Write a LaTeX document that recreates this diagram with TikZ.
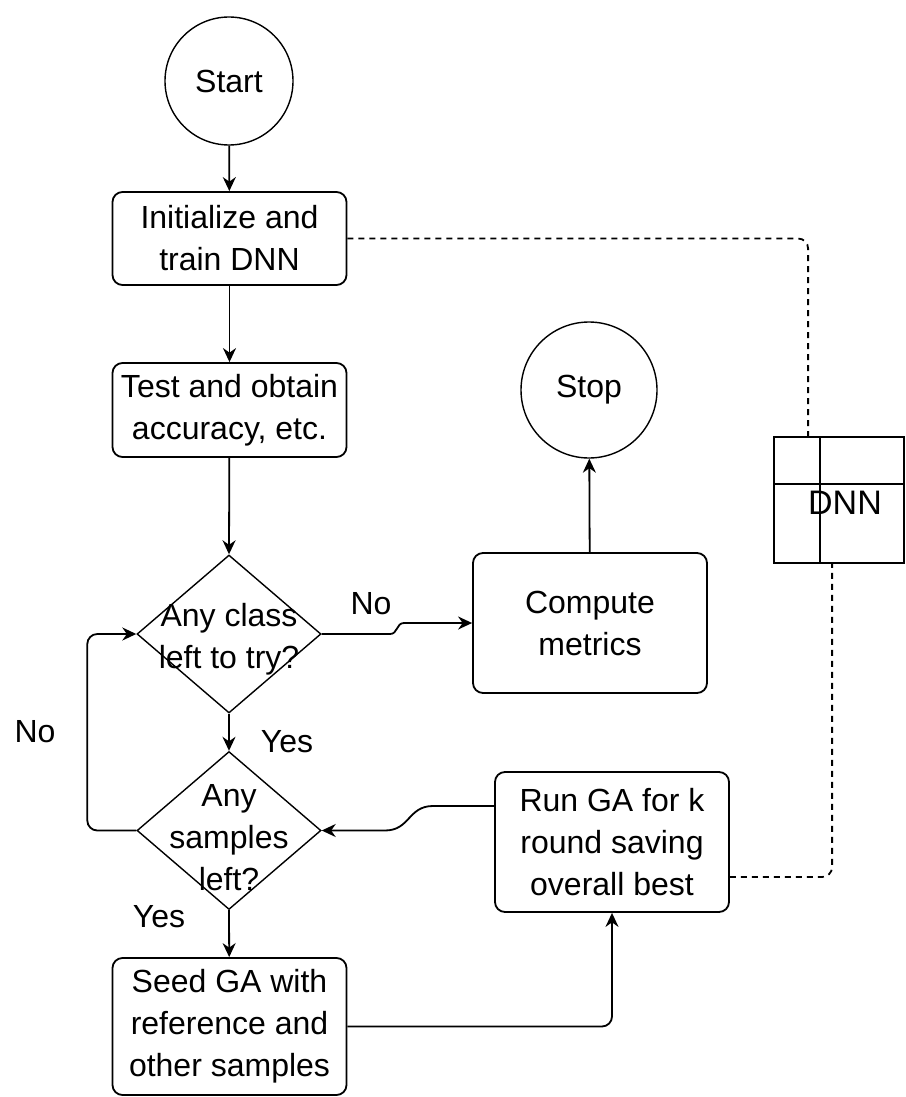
\documentclass[tikz,border=0pt]{standalone}
\usepackage{fontspec}
\setmainfont{Liberation Sans}
\usetikzlibrary{shapes.geometric,arrows.meta,calc}
\begin{document}
\begin{tikzpicture}[x=0.5pt,y=-0.5pt,
  line width=0.9pt,
  font=\fontsize{16}{21}\selectfont,
  box/.style={draw,rounded corners=5pt,minimum width=117pt,align=center,inner sep=0pt},
  term/.style={draw,circle,inner sep=0pt,line width=0.7pt},
  decision/.style={draw,diamond,inner sep=0pt,minimum width=92pt,minimum height=79pt,line width=0.7pt},
  flow/.style={-{Stealth[length=7pt,width=6.5pt]}},
  link/.style={dash pattern=on 3pt off 2.5pt,rounded corners=5pt},
]
\useasboundingbox (0,0) rectangle (905,1097);

% terminals
\node[term,minimum size=64pt] (start) at (229,81) {Start};
\node[term,minimum size=68pt] (stop) at (589,390) {Stop};

% process steps
\node[box,minimum height=46.5pt] (init) at (229.5,238.5) {Initialize and\\train DNN};
\node[box,minimum height=47pt] (test) at (229.5,410) {Test and obtain\\accuracy, etc.};
\node[box,minimum height=70pt] (comp) at (590,623) {Compute\\metrics};
\node[box,minimum height=70pt] (run) at (612,842) {Run GA for k\\round saving\\overall best};
\node[box,minimum height=68.5pt] (seed) at (229.5,1026.5) {Seed GA with\\reference and\\other samples};

% decisions
\node[decision] (d1) at (229,634) {};
\node[align=center] (d1t) at (229,639) {Any class\\left to try?};
\node[decision] (d2) at (229,830.5) {};
\node[align=center] (d2t) at (229,838) {Any\\samples\\left?};

% trained network store
\node[draw,rectangle,minimum width=65pt,minimum height=63pt,inner sep=0pt] (dnn) at (839,500) {};
\draw ($(dnn.north west)+(47,0)$) -- ($(dnn.south west)+(47,0)$);
\draw ($(dnn.north west)+(0,48)$) -- ($(dnn.north east)+(0,48)$);
\node[font=\fontsize{17}{21}\selectfont] (dnnt) at (845,503) {DNN};

% main flow
\draw[flow] (start) -- (init);
\draw[flow] (init) -- (test);
\draw[flow] (test) -- (d1.north);
\draw[flow] (d1.south) -- (d2.north);
\draw[flow] (d2.south) -- (seed);
\draw[flow] (comp) -- (stop);
\draw[flow] (d1.east) -- (390,634) .. controls (398,634) and (396,623) .. (404,623) -- (comp.west);
\draw[flow] ($(run.west)+(0,-36)$) -- (433,806) .. controls (408,806) and (410,830.5) .. (385,830.5) -- (d2.east);
\draw[flow,rounded corners=5pt] (seed.east) -| (run.south);
\draw[flow,rounded corners=5pt] (d2.west) -- ++(-49,0) |- (d1.west);

% links to the network store
\draw[link] (init.east) -| ($(dnn.north west)+(35,0)$);
\draw[link] ($(run.east)+(0,35)$) -| ($(dnn.south west)+(59,0)$);

% branch labels
\node (lno1) at (371,604) {No};
\node (lyes1) at (287,742) {Yes};
\node (lno2) at (35,732) {No};
\node (lyes2) at (159,917) {Yes};
\end{tikzpicture}
\end{document}
